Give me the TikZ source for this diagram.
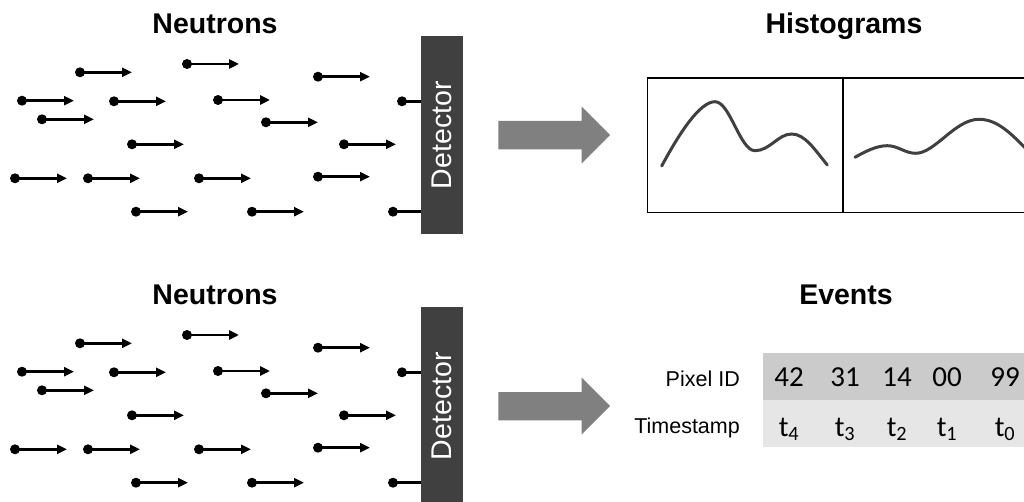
\documentclass[tikz,border=0pt]{standalone}
\usepackage{fontspec}
\setmainfont{Liberation Sans}
\newfontfamily\calib{Carlito}
\usetikzlibrary{arrows.meta}
\definecolor{detgray}{HTML}{404040}
\definecolor{arrgray}{HTML}{808080}
\definecolor{rowA}{HTML}{CBCBCB}
\definecolor{rowB}{HTML}{E6E6E6}
\definecolor{curvegray}{HTML}{404040}
\tikzset{
 dotnode/.style={circle,fill=black,inner sep=0pt,minimum size=10pt},
 shaft/.style={line width=2.6pt,-{Triangle[length=10pt,width=9pt]}},
 shaftplain/.style={line width=2.6pt},
 detbox/.style={fill=detgray,draw=none,inner sep=0pt,anchor=north west,minimum width=42pt,minimum height=198pt},
 dettext/.style={text=white,rotate=90,inner sep=0pt,font=\fontsize{28.5}{30}\selectfont},
 titletext/.style={font=\bfseries\fontsize{28.5}{30}\selectfont,anchor=base,inner sep=0pt},
 bigarrow/.style={fill=arrgray,draw=none},
 histbox/.style={draw=black,line width=1.5pt,inner sep=0pt,anchor=north west,minimum height=134.4pt},
 histcurve/.style={draw=curvegray,line width=3pt,line cap=round},
 rowlabel/.style={font=\fontsize{21.5}{24}\selectfont,anchor=base east,inner sep=0pt},
 cell/.style={font=\calib\fontsize{29}{30}\selectfont,anchor=base,inner sep=0pt},
}
\begin{document}
\begin{tikzpicture}[x=1pt,y=-1pt]
\useasboundingbox (0,0) rectangle (1024,502);
\clip (0,0) rectangle (1024,502);
\foreach \dy/\p in {0/a,271/b}{
\begin{scope}[shift={(0,\dy)}]
 \node[titletext] (neut\p) at (215,34) {Neutrons};
 \foreach \x/\y [count=\i] in {80/72.3,187/64,318/76.7,22/100.7,114/101.3,218/100,42/119.3,266/122.3,132/144.3,344/144.3,15/178.3,88/178.3,199/178.3,318/176.7,136/211.7,252/211.7}{
   \node[dotnode] (\p d\i) at (\x,\y) {};
   \coordinate (\p e\i) at (\x+52,\y);
   \draw[shaft] (\p d\i.center) -- (\p e\i);
 }
 \node[dotnode] (\p hA) at (402,101.3) {};
 \node[dotnode] (\p hB) at (393,211.7) {};
 \node[detbox] (det\p) at (421,36) {};
 \coordinate (\p hAe) at (det\p.west |- \p hA);
 \coordinate (\p hBe) at (det\p.west |- \p hB);
 \draw[shaftplain] (\p hA.center) -- (\p hAe);
 \draw[shaftplain] (\p hB.center) -- (\p hBe);
 \node[dettext] (dett\p) at (det\p.center) {Detector};
 \fill[bigarrow] (498.3,121) -- (581.7,121) -- (581.7,106.7) -- (610,135) -- (581.7,163.3) -- (581.7,149.3) -- (498.3,149.3) -- cycle;
\end{scope}
}
% Histograms
\node[titletext] (histt) at (844,33.5) {Histograms};
\node[histbox,minimum width=195.6pt] (h1) at (646.7,77.3) {};
\node[histbox,minimum width=200pt] (h2) at (842.3,77.3) {};
\draw[histcurve] (661.7,166) .. controls (680,132) and (700,101.7) .. (715,101.7)
  .. controls (730,101.7) and (740,150.7) .. (755,150.7)
  .. controls (770,150.7) and (778,134) .. (791.7,134)
  .. controls (805,134) and (815,150) .. (827.3,165);
\draw[histcurve] (855,157.3) .. controls (866,151) and (877,145.7) .. (887.3,145.7)
  .. controls (898,145.7) and (905,153.3) .. (915.7,153.3)
  .. controls (935,153.3) and (955,119.3) .. (979,119.3)
  .. controls (1000,119.3) and (1015,138) .. (1035,158);
% Events
\node[titletext] (evt) at (846,304.5) {Events};
\fill[rowA] (763.3,353) rectangle (1040,399.5);
\fill[rowB] (763.3,399.5) rectangle (1040,446.7);
\node[rowlabel] (pid) at (740,386) {Pixel ID};
\node[rowlabel] (tst) at (740,433.3) {Timestamp};
\foreach \x/\v/\s [count=\i] in {789/42/4,845/31/3,897/14/2,947/00/1,1005/99/0}{
  \node[cell] (v\i) at (\x,386.7) {\v};
  \node[cell] (t\i) at (\x,436) {t\textsubscript{\s}};
}
\end{tikzpicture}
\end{document}
